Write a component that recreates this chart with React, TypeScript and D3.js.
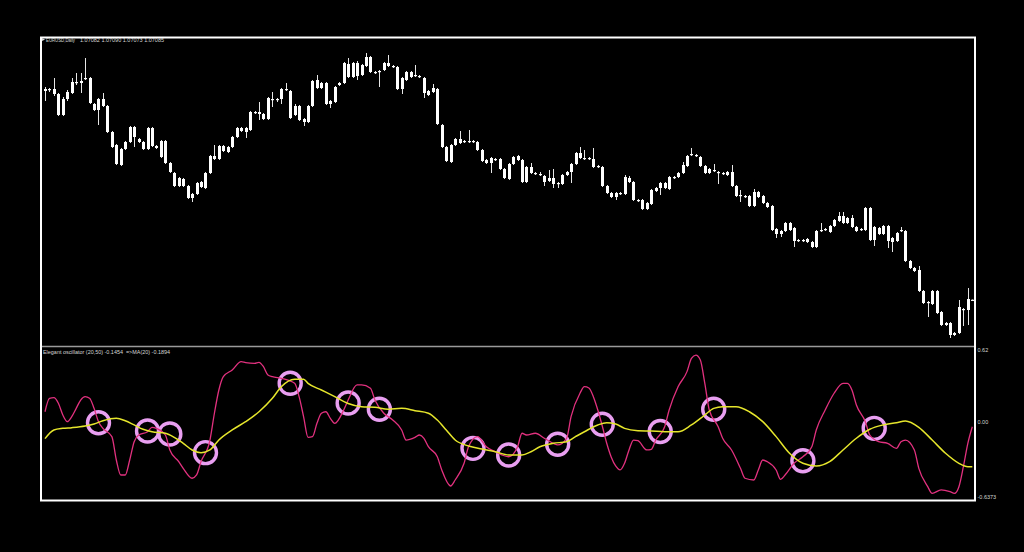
import React from "react";
import * as d3 from "d3";

// chart header texts
const symbolLabel = "EURUSD,Daily";
const indicatorLabel = "Elegant oscillator (20,50) -0.1454  =>MA(20) -0.1894";

// daily candles, oldest first
const opens = [
  1.1130, 1.1128, 1.1130, 1.1120, 1.1078, 1.1110, 1.1122, 1.1144, 1.1142, 1.1150,
  1.1152, 1.1100, 1.1088, 1.1110, 1.1096, 1.1044, 1.1018, 1.0978, 1.1010, 1.1024,
  1.1054, 1.1030, 1.1024, 1.1010, 1.1052, 1.1016, 1.0994, 1.1026, 1.0982, 1.0962,
  1.0936, 1.0950, 1.0936, 1.0912, 1.0920, 1.0944, 1.0932, 1.0962, 1.0996, 1.0990,
  1.1016, 1.1004, 1.1014, 1.1034, 1.1052, 1.1044, 1.1048, 1.1084, 1.1084, 1.1080,
  1.1070, 1.1110, 1.1108, 1.1110, 1.1130, 1.1126, 1.1078, 1.1096, 1.1070, 1.1064,
  1.1096, 1.1148, 1.1132, 1.1142, 1.1100, 1.1104, 1.1138, 1.1142, 1.1180, 1.1154,
  1.1182, 1.1158, 1.1176, 1.1194, 1.1164, 1.1164, 1.1168, 1.1182, 1.1176, 1.1174,
  1.1130, 1.1148, 1.1164, 1.1156, 1.1156, 1.1152, 1.1126, 1.1124, 1.1130, 1.1058,
  1.1014, 1.0984, 1.1018, 1.1030, 1.1024, 1.1026, 1.1024, 1.1024, 1.1008, 1.0988,
  1.0982, 1.0990, 1.0990, 1.0970, 1.0950, 1.0980, 1.0996, 1.0988, 1.0944, 1.0974,
  1.0962, 1.0960, 1.0956, 1.0946, 1.0952, 1.0940, 1.0940, 1.0958, 1.0964, 1.0980,
  1.1002, 1.0992, 1.0990, 1.0990, 1.0974, 1.0974, 1.0936, 1.0922, 1.0914, 1.0922,
  1.0920, 1.0952, 1.0944, 1.0908, 1.0908, 1.0890, 1.0900, 1.0926, 1.0932, 1.0942,
  1.0930, 1.0954, 1.0954, 1.0962, 1.0976, 1.0998, 1.0998, 1.0994, 1.0976, 1.0962,
  1.0968, 1.0964, 1.0962, 1.0958, 1.0964, 1.0936, 1.0916, 1.0916, 1.0916, 1.0896,
  1.0924, 1.0916, 1.0902, 1.0896, 1.0850, 1.0840, 1.0846, 1.0862, 1.0852, 1.0826,
  1.0828, 1.0824, 1.0824, 1.0814, 1.0846, 1.0848, 1.0844, 1.0856, 1.0866, 1.0876,
  1.0862, 1.0872, 1.0854, 1.0848, 1.0848, 1.0892, 1.0828, 1.0852, 1.0840, 1.0856,
  1.0824, 1.0826, 1.0846, 1.0846, 1.0786, 1.0772, 1.0768, 1.0726, 1.0702, 1.0700,
  1.0726, 1.0684, 1.0658, 1.0662, 1.0638, 1.0642, 1.0690, 1.0688, 1.07082,
];
const highs = [
  1.1134, 1.1132, 1.1152, 1.1122, 1.1114, 1.1128, 1.1152, 1.1162, 1.1162, 1.1192,
  1.1154, 1.1102, 1.1112, 1.1122, 1.1098, 1.1046, 1.1020, 1.1012, 1.1026, 1.1056,
  1.1056, 1.1032, 1.1026, 1.1054, 1.1054, 1.1018, 1.1028, 1.1028, 1.0984, 1.0964,
  1.0954, 1.0952, 1.0938, 1.0922, 1.0944, 1.0946, 1.0964, 1.0998, 1.1018, 1.1018,
  1.1018, 1.1016, 1.1036, 1.1054, 1.1054, 1.1054, 1.1086, 1.1086, 1.1104, 1.1082,
  1.1114, 1.1124, 1.1112, 1.1132, 1.1142, 1.1128, 1.1100, 1.1098, 1.1072, 1.1098,
  1.1148, 1.1158, 1.1144, 1.1144, 1.1108, 1.1136, 1.1144, 1.1184, 1.1192, 1.1184,
  1.1186, 1.1180, 1.1202, 1.1196, 1.1166, 1.1168, 1.1184, 1.1198, 1.1178, 1.1176,
  1.1154, 1.1166, 1.1166, 1.1178, 1.1158, 1.1154, 1.1128, 1.1140, 1.1132, 1.1060,
  1.1016, 1.1020, 1.1032, 1.1046, 1.1028, 1.1048, 1.1028, 1.1026, 1.1010, 1.0990,
  1.0994, 1.0992, 1.0992, 1.0972, 1.0982, 1.0996, 1.0998, 1.0990, 1.0976, 1.0982,
  1.0964, 1.0964, 1.0958, 1.0968, 1.0970, 1.0944, 1.0960, 1.0966, 1.0982, 1.1004,
  1.1014, 1.1008, 1.0994, 1.1012, 1.0978, 1.0976, 1.0938, 1.0924, 1.0924, 1.0924,
  1.0958, 1.0956, 1.0946, 1.0910, 1.0910, 1.0904, 1.0930, 1.0934, 1.0944, 1.0944,
  1.0956, 1.0956, 1.0964, 1.0984, 1.0998, 1.1012, 1.1000, 1.0996, 1.0978, 1.0972,
  1.0980, 1.0966, 1.0964, 1.0966, 1.0978, 1.0938, 1.0928, 1.0918, 1.0918, 1.0930,
  1.0926, 1.0918, 1.0904, 1.0898, 1.0852, 1.0848, 1.0864, 1.0864, 1.0854, 1.0830,
  1.0830, 1.0832, 1.0826, 1.0848, 1.0862, 1.0852, 1.0858, 1.0870, 1.0884, 1.0884,
  1.0874, 1.0878, 1.0856, 1.0852, 1.0894, 1.0894, 1.0856, 1.0854, 1.0858, 1.0858,
  1.0834, 1.0844, 1.0854, 1.0848, 1.0788, 1.0774, 1.0776, 1.0728, 1.0706, 1.0728,
  1.0728, 1.0686, 1.0664, 1.0664, 1.0644, 1.0708, 1.0692, 1.0732, 1.07090,
];
const lows = [
  1.1106, 1.1124, 1.1116, 1.1076, 1.1076, 1.1106, 1.1120, 1.1138, 1.1122, 1.1148,
  1.1100, 1.1086, 1.1058, 1.1094, 1.1042, 1.1012, 1.0978, 1.0976, 1.1008, 1.1022,
  1.1014, 1.1022, 1.1008, 1.1008, 1.1014, 1.1010, 1.0992, 1.0980, 1.0962, 1.0934,
  1.0934, 1.0934, 1.0910, 1.0904, 1.0918, 1.0932, 1.0930, 1.0960, 1.0988, 1.0988,
  1.1004, 1.1002, 1.1012, 1.1032, 1.1044, 1.1032, 1.1046, 1.1080, 1.1068, 1.1068,
  1.1068, 1.1094, 1.1104, 1.1100, 1.1126, 1.1070, 1.1076, 1.1066, 1.1056, 1.1062,
  1.1094, 1.1130, 1.1130, 1.1098, 1.1092, 1.1102, 1.1136, 1.1140, 1.1152, 1.1152,
  1.1148, 1.1156, 1.1174, 1.1162, 1.1160, 1.1134, 1.1166, 1.1174, 1.1172, 1.1128,
  1.1120, 1.1146, 1.1152, 1.1154, 1.1152, 1.1112, 1.1116, 1.1122, 1.1058, 1.1012,
  1.0984, 1.0982, 1.1016, 1.1020, 1.1022, 1.1022, 1.1022, 1.1006, 1.0984, 1.0980,
  1.0962, 1.0986, 1.0968, 1.0950, 1.0948, 1.0978, 1.0986, 1.0942, 1.0942, 1.0960,
  1.0958, 1.0956, 1.0936, 1.0944, 1.0932, 1.0932, 1.0938, 1.0956, 1.0942, 1.0978,
  1.0990, 1.0988, 1.0988, 1.0972, 1.0972, 1.0934, 1.0920, 1.0912, 1.0908, 1.0918,
  1.0918, 1.0942, 1.0906, 1.0904, 1.0888, 1.0888, 1.0898, 1.0924, 1.0918, 1.0930,
  1.0928, 1.0950, 1.0952, 1.0960, 1.0974, 1.0996, 1.0994, 1.0974, 1.0960, 1.0960,
  1.0964, 1.0940, 1.0958, 1.0956, 1.0934, 1.0914, 1.0904, 1.0912, 1.0894, 1.0894,
  1.0912, 1.0900, 1.0892, 1.0846, 1.0832, 1.0834, 1.0844, 1.0846, 1.0814, 1.0824,
  1.0824, 1.0822, 1.0812, 1.0812, 1.0844, 1.0846, 1.0842, 1.0854, 1.0864, 1.0860,
  1.0860, 1.0852, 1.0844, 1.0846, 1.0846, 1.0826, 1.0816, 1.0838, 1.0838, 1.0812,
  1.0804, 1.0824, 1.0844, 1.0784, 1.0770, 1.0764, 1.0724, 1.0700, 1.0674, 1.0698,
  1.0680, 1.0656, 1.0656, 1.0632, 1.0636, 1.0640, 1.0656, 1.0658, 1.07073,
];
const closes = [
  1.1126, 1.1130, 1.1120, 1.1078, 1.1110, 1.1124, 1.1144, 1.1142, 1.1146, 1.1152,
  1.1102, 1.1088, 1.1110, 1.1096, 1.1044, 1.1014, 1.0980, 1.1010, 1.1024, 1.1054,
  1.1034, 1.1024, 1.1010, 1.1052, 1.1016, 1.1012, 1.1026, 1.0982, 1.0964, 1.0936,
  1.0952, 1.0936, 1.0912, 1.0920, 1.0942, 1.0934, 1.0962, 1.0996, 1.0990, 1.1016,
  1.1006, 1.1014, 1.1034, 1.1052, 1.1046, 1.1052, 1.1084, 1.1082, 1.1080, 1.1070,
  1.1112, 1.1108, 1.1110, 1.1130, 1.1128, 1.1072, 1.1096, 1.1068, 1.1064, 1.1096,
  1.1146, 1.1132, 1.1142, 1.1100, 1.1106, 1.1134, 1.1142, 1.1182, 1.1154, 1.1182,
  1.1156, 1.1178, 1.1194, 1.1164, 1.1162, 1.1166, 1.1182, 1.1176, 1.1174, 1.1130,
  1.1152, 1.1164, 1.1154, 1.1158, 1.1154, 1.1122, 1.1118, 1.1132, 1.1060, 1.1014,
  1.0986, 1.1018, 1.1030, 1.1022, 1.1026, 1.1024, 1.1026, 1.1008, 1.0986, 1.0982,
  1.0992, 1.0988, 1.0970, 1.0952, 1.0980, 1.0994, 1.0988, 1.0944, 1.0974, 1.0962,
  1.0960, 1.0958, 1.0944, 1.0952, 1.0940, 1.0942, 1.0958, 1.0964, 1.0980, 1.1002,
  1.0992, 1.0990, 1.0992, 1.0974, 1.0976, 1.0936, 1.0922, 1.0914, 1.0922, 1.0920,
  1.0954, 1.0944, 1.0908, 1.0906, 1.0890, 1.0902, 1.0928, 1.0932, 1.0942, 1.0932,
  1.0954, 1.0952, 1.0962, 1.0978, 1.0996, 1.1000, 1.0996, 1.0976, 1.0962, 1.0970,
  1.0966, 1.0962, 1.0960, 1.0964, 1.0936, 1.0916, 1.0918, 1.0914, 1.0896, 1.0924,
  1.0914, 1.0902, 1.0894, 1.0848, 1.0840, 1.0846, 1.0862, 1.0848, 1.0826, 1.0828,
  1.0826, 1.0830, 1.0814, 1.0846, 1.0848, 1.0850, 1.0856, 1.0868, 1.0876, 1.0862,
  1.0872, 1.0854, 1.0846, 1.0850, 1.0892, 1.0828, 1.0854, 1.0840, 1.0856, 1.0826,
  1.0832, 1.0842, 1.0848, 1.0786, 1.0772, 1.0766, 1.0726, 1.0702, 1.0704, 1.0726,
  1.0682, 1.0658, 1.0662, 1.0638, 1.0642, 1.0694, 1.0688, 1.0710, 1.07085,
];

// oscillator (magenta), read at bar indices
const oscBars = [
  0, 1, 2, 3, 4, 5, 6, 7, 8, 9, 10, 11, 12, 13, 15, 16, 17, 18, 19, 20,
  21, 23, 24, 25, 27, 28, 30, 31, 33, 34, 35, 37, 38, 39, 40, 42, 44, 45, 47, 48,
  49, 50, 51, 53, 56, 57, 58, 59, 60, 61, 62, 63, 64, 65, 67, 68, 70, 71, 73, 74,
  76, 78, 80, 81, 83, 84, 85, 86, 88, 89, 91, 92, 94, 95, 97, 99, 101, 104, 106, 107,
  108, 110, 112, 114, 115, 117, 118, 120, 121, 122, 123, 124, 125, 126, 127, 128, 129, 130, 131, 132,
  133, 135, 136, 137, 139, 140, 142, 144, 145, 146, 147, 148, 149, 151, 152, 154, 156, 157, 159, 160,
  161, 162, 164, 165, 166, 168, 170, 172, 173, 175, 177, 179, 180, 181, 182, 184, 185, 187, 189, 191,
  192, 193, 195, 196, 198, 199, 201, 203, 204, 205, 206, 207, 208,
];
const oscValues = [
  0.092, 0.207, 0.212, 0.164, 0.064, 0.007, 0.05, 0.121, 0.192, 0.221, 0.207, 0.121, 0.007, -0.05, -0.121, -0.321, -0.449, -0.449, -0.321, -0.164,
  -0.107, -0.079, -0.041, -0.05, -0.107, -0.235, -0.335, -0.392, -0.477, -0.449, -0.335, -0.15, 0.079, 0.278, 0.392, 0.449, 0.52, 0.512, 0.506, 0.515,
  0.477, 0.406, 0.392, 0.378, 0.335, 0.221, 0.05, -0.127, -0.121, -0.007, 0.079, 0.092, 0.036, -0.007, 0.107, 0.192, 0.321, 0.321, 0.293, 0.192,
  0.079, 0.021, -0.064, -0.15, -0.127, -0.107, -0.135, -0.207, -0.293, -0.406, -0.543, -0.492, -0.349, -0.207, -0.121, -0.207, -0.25, -0.293, -0.207, -0.092,
  -0.107, -0.092, -0.135, -0.178, -0.192, -0.135, 0.05, 0.25, 0.306, 0.295, 0.221, 0.107, -0.03, -0.178, -0.295, -0.372, -0.406, -0.349, -0.235, -0.15,
  -0.156, -0.235, -0.229, -0.15, -0.036, 0.107, 0.306, 0.435, 0.549, 0.577, 0.535, 0.335, 0.107, -0.036, -0.135, -0.235, -0.392, -0.477, -0.492, -0.406,
  -0.321, -0.335, -0.406, -0.486, -0.449, -0.349, -0.293, -0.207, -0.064, 0.107, 0.25, 0.335, 0.335, 0.278, 0.15, 0.007, -0.107, -0.164, -0.178, -0.221,
  -0.164, -0.15, -0.235, -0.392, -0.549, -0.606, -0.577, -0.592, -0.606, -0.549, -0.378, -0.178, -0.036,
];

// moving average of the oscillator (yellow)
const maBars = [
  0, 2, 4, 6, 9, 11, 13, 16, 18, 20, 22, 24, 27, 29, 31, 33, 35, 37, 39, 42,
  45, 48, 51, 53, 56, 58, 59, 62, 65, 68, 71, 74, 77, 80, 83, 86, 88, 90, 92, 95,
  98, 101, 104, 107, 109, 111, 114, 117, 119, 121, 124, 126, 128, 130, 133, 136, 139, 142, 145, 148,
  150, 152, 155, 158, 161, 164, 167, 170, 173, 176, 179, 182, 185, 188, 191, 193, 196, 199, 202, 205,
  207, 208,
];
const maValues = [
  -0.138, -0.064, -0.05, -0.044, -0.03, -0.013, 0.015, 0.036, 0.015, -0.021, -0.058, -0.079, -0.092, -0.127, -0.178, -0.235, -0.258, -0.235, -0.15, -0.064,
  0.007, 0.092, 0.207, 0.306, 0.37, 0.37, 0.335, 0.278, 0.221, 0.163, 0.135, 0.13, 0.113, 0.121, 0.101, 0.079, 0.021, -0.064, -0.15, -0.201,
  -0.227, -0.25, -0.278, -0.278, -0.25, -0.207, -0.178, -0.164, -0.121, -0.079, -0.021, -0.002, -0.013, -0.05, -0.07, -0.073, -0.079, -0.079, -0.021, 0.064,
  0.121, 0.135, 0.135, 0.092, 0.007, -0.121, -0.263, -0.349, -0.372, -0.335, -0.235, -0.135, -0.058, -0.021, -0.002, 0.013, -0.041, -0.15, -0.263, -0.349,
  -0.378, -0.378,
];

// crossing markers
const crossBars = [12, 23, 28, 36, 55, 68, 75, 96, 104, 115, 125, 138, 150, 170, 186];
const crossValues = [
  -0.002, -0.073, -0.098, -0.258, 0.335, 0.167, 0.113, -0.221, -0.278, -0.186, -0.015, -0.077, 0.113, -0.327, -0.05,
];

const oscLevels = [0.62, 0.0, -0.6373];
const oscLevelLabels = ["0.62", "0.00", "-0.6373"];

const font = "'Liberation Sans', Arial, sans-serif";
const txt = "#d4d4d4";

export default function App() {
  const last = opens.length - 1;
  const x = d3.scaleLinear().domain([0, last]).range([45, 972.3]);
  const yP = d3.scaleLinear().domain([1.0616, 1.1234]).range([346, 37]);
  const yO = d3.scaleLinear().domain([-0.6373, 0.62]).range([497, 350]);

  const line = d3
    .line<[number, number]>()
    .x((d) => x(d[0]))
    .y((d) => yO(d[1]))
    .curve(d3.curveMonotoneX);

  const oscPath = line(oscBars.map((b, i) => [b, oscValues[i]]) as [number, number][]) || "";
  const maPath = line(maBars.map((b, i) => [b, maValues[i]]) as [number, number][]) || "";

  const header = [opens[last], highs[last], lows[last], closes[last]].map((v) => v.toFixed(5)).join(" ");

  return (
    <svg
      width={1024}
      height={552}
      style={{ position: "absolute", left: 0, top: 0, display: "block", background: "#000" }}
    >
      <rect x={0} y={0} width={1024} height={552} fill="#000" />
      <defs>
        <clipPath id="oscClip">
          <rect x={42} y={347} width={932} height={153} />
        </clipPath>
      </defs>

      {/* candles */}
      <g>
        {opens.map((o, i) => {
          const cx = Math.round(x(i));
          const top = yP(Math.max(o, closes[i]));
          const bot = yP(Math.min(o, closes[i]));
          return (
            <g key={i}>
              <line
                x1={cx + 0.5}
                x2={cx + 0.5}
                y1={yP(highs[i])}
                y2={yP(lows[i])}
                stroke="#e6e6e6"
                strokeWidth={1}
              />
              <rect x={cx - 1} y={top} width={3} height={Math.max(1.2, bot - top)} fill="#fff" />
            </g>
          );
        })}
      </g>

      {/* oscillator */}
      <g clipPath="url(#oscClip)">
        {crossBars.map((b, i) => (
          <circle
            key={i}
            cx={x(b)}
            cy={yO(crossValues[i])}
            r={11}
            fill="none"
            stroke="#e99ff1"
            strokeWidth={3.4}
          />
        ))}
        <path d={oscPath} fill="none" stroke="#e2317f" strokeWidth={1.3} strokeLinejoin="round" />
        <path d={maPath} fill="none" stroke="#e6e62c" strokeWidth={1.5} strokeLinejoin="round" />
      </g>

      {/* frame and separator */}
      <line x1={41} x2={975} y1={346.5} y2={346.5} stroke="#9a9a9a" strokeWidth={1.5} />
      <rect x={41} y={37.5} width={934} height={463} fill="none" stroke="#fff" strokeWidth={2} />

      {/* labels */}
      <polygon points="42,38 45,39.5 42,41" fill="#ddd" />
      <text x={46} y={41.5} fontSize={5} fontFamily={font} fill={txt} textLength={29} lengthAdjust="spacingAndGlyphs">
        {symbolLabel}
      </text>
      <text x={80} y={41.5} fontSize={5} fontFamily={font} fill={txt} textLength={84} lengthAdjust="spacingAndGlyphs">
        {header}
      </text>
      <text
        x={43}
        y={353.5}
        fontSize={5}
        fontFamily={font}
        fill={txt}
        style={{ whiteSpace: "pre" }}
        textLength={127}
        lengthAdjust="spacingAndGlyphs"
      >
        {indicatorLabel}
      </text>
      {oscLevels.map((v, i) => (
        <text key={i} x={977.5} y={yO(v) + 2} fontSize={5.5} fontFamily={font} fill={txt}>
          {oscLevelLabels[i]}
        </text>
      ))}
    </svg>
  );
}
